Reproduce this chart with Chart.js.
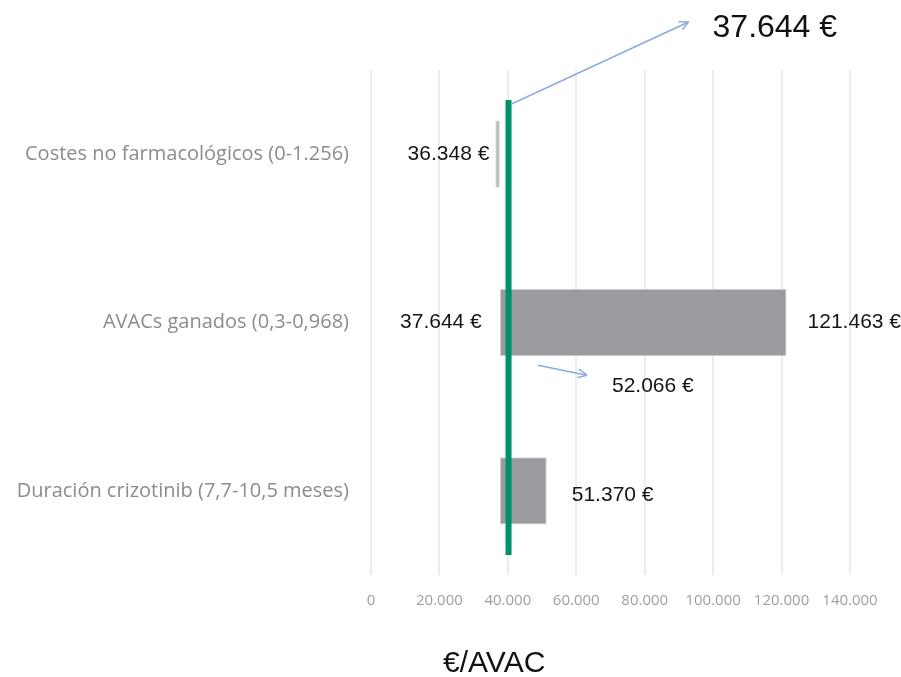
<!DOCTYPE html>
<html>
<head>
<meta charset="utf-8">
<script src="https://cdn.jsdelivr.net/npm/chart.js@4/dist/chart.umd.min.js"></script>
<style>
  body { margin: 0; background: #fff; }
  canvas { display: block; }
</style>
</head>
<body>
<canvas id="tornado" width="901" height="677"></canvas>
<script>
// tornado chart, sensitivity analysis (€/AVAC)
const categories = [
  'Costes no farmacológicos (0-1.256)',
  'AVACs ganados (0,3-0,968)',
  'Duración crizotinib (7,7-10,5 meses)'
];
const lowValues = [36348, 37644, 37644];
const highValues = [37644, 121463, 51370];
const showLow = [true, true, false];
const showHigh = [false, true, true];
const baseCase = 37644;
const baseLineAt = 40200;   // green line sits here in the source picture
const markerValue = 49100;
const markerText = '52.066 €';
const xTicks = [0, 20000, 40000, 60000, 80000, 100000, 120000, 140000];
const axisTitle = '€/AVAC';

function fmt(v) {
  return String(v).replace(/\B(?=(\d{3})+(?!\d))/g, '.');
}

function arrow(ctx, x1, y1, x2, y2) {
  ctx.beginPath();
  ctx.moveTo(x1, y1);
  ctx.lineTo(x2, y2);
  ctx.stroke();
  const a = Math.atan2(y2 - y1, x2 - x1);
  ctx.beginPath();
  ctx.moveTo(x2, y2);
  ctx.lineTo(x2 - 10 * Math.cos(a - 0.45), y2 - 10 * Math.sin(a - 0.45));
  ctx.moveTo(x2, y2);
  ctx.lineTo(x2 - 10 * Math.cos(a + 0.45), y2 - 10 * Math.sin(a + 0.45));
  ctx.stroke();
}

const extras = {
  id: 'extras',
  afterDatasetsDraw(chart) {
    const ctx = chart.ctx;
    const xs = chart.scales.x;
    const area = chart.chartArea;
    const bars = chart.getDatasetMeta(0).data;
    ctx.save();

    // base case line
    const bx = xs.getPixelForValue(baseLineAt);
    ctx.strokeStyle = '#00906a';
    ctx.lineWidth = 6;
    ctx.beginPath();
    ctx.moveTo(bx, area.top + 30);
    ctx.lineTo(bx, area.bottom - 20);
    ctx.stroke();

    // value labels
    ctx.fillStyle = '#151515';
    ctx.font = '21px "Liberation Sans", Arial, sans-serif';
    ctx.textBaseline = 'middle';
    bars.forEach((bar, i) => {
      const y = bar.y;
      if (showLow[i]) {
        ctx.textAlign = 'right';
        const gap = i === 0 ? 6 : 18;
        ctx.fillText(fmt(lowValues[i]) + ' €', xs.getPixelForValue(lowValues[i]) - gap, y);
      }
      if (showHigh[i]) {
        ctx.textAlign = 'left';
        const gap = i === 2 ? 25 : 21;
        ctx.fillText(fmt(highValues[i]) + ' €', xs.getPixelForValue(highValues[i]) + gap, y + (i === 2 ? 4 : 0));
      }
    });

    // marker label + arrow
    const mx = xs.getPixelForValue(markerValue);
    const mb = bars[1];
    const mBottom = mb.y + mb.height / 2;
    ctx.textAlign = 'left';
    ctx.fillText(markerText, mx + 73, mBottom + 30);
    ctx.strokeStyle = '#8eaadb';
    ctx.lineWidth = 1.5;
    arrow(ctx, mx - 1, mBottom + 9, mx + 48, mBottom + 19);

    // base case callout
    arrow(ctx, bx + 3, area.top + 34, bx + 180, area.top - 48);
    ctx.font = '32px "Liberation Sans", Arial, sans-serif';
    ctx.fillStyle = '#111';
    ctx.textBaseline = 'alphabetic';
    ctx.fillText(fmt(baseCase) + ' €', bx + 204, area.top - 33);

    // axis title
    ctx.font = '30px "Liberation Sans", Arial, sans-serif';
    ctx.textAlign = 'center';
    ctx.fillText(axisTitle, xs.getPixelForValue(36000), area.bottom + 97);
    ctx.restore();
  }
};

new Chart(document.getElementById('tornado'), {
  type: 'bar',
  data: {
    labels: categories,
    datasets: [
      {
        data: categories.map((c, i) => [lowValues[i], highValues[i]]),
        backgroundColor: ['#b6b6b8', '#9b9a9f', '#9b9a9f'],
        borderColor: '#d4d4d6',
        borderWidth: 1,
        borderSkipped: false,
        barPercentage: 0.4,
        categoryPercentage: 1,
        grouped: false
      },
      {
        data: categories.map((c, i) => i === 1 ? [markerValue - 400, markerValue + 400] : null),
        backgroundColor: '#3a3a3c',
        barPercentage: 0.36,
        categoryPercentage: 1,
        grouped: false
      }
    ]
  },
  options: {
    indexAxis: 'y',
    responsive: false,
    animation: false,
    layout: { padding: { top: 70, right: 51, left: 0, bottom: 0 } },
    plugins: { legend: { display: false }, tooltip: { enabled: false } },
    scales: {
      x: {
        min: xTicks[0],
        max: xTicks[xTicks.length - 1],
        afterBuildTicks(scale) { scale.ticks = xTicks.map(v => ({ value: v })); },
        afterFit(scale) { scale.height = 102; },
        grid: { color: '#ececec', lineWidth: 2, drawTicks: false },
        border: { display: false },
        ticks: {
          callback: v => fmt(v),
          color: '#a0a0a0',
          font: { family: 'Open Sans', size: 15 },
          padding: 17,
          maxRotation: 0
        }
      },
      y: {
        afterFit(scale) { scale.width = 371; },
        grid: { display: false },
        border: { display: false },
        ticks: {
          color: '#8c8c8c',
          font: { family: 'Open Sans', size: 20 },
          padding: 14
        }
      }
    }
  },
  plugins: [extras]
});
</script>
</body>
</html>
